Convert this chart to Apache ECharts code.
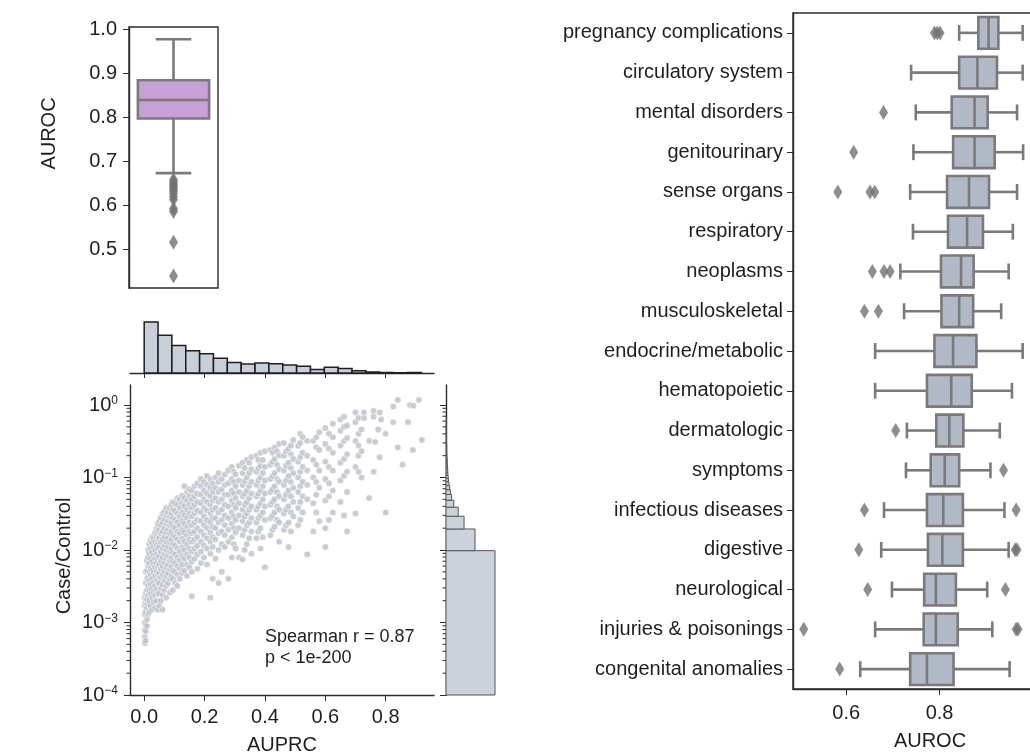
<!DOCTYPE html>
<html>
<head>
<meta charset="utf-8">
<script src="https://cdn.jsdelivr.net/npm/echarts@6/dist/echarts.min.js"></script>
<style>
  html, body { margin: 0; padding: 0; background: #fff; }
  #chart { width: 1030px; height: 756px; }
</style>
</head>
<body>
<div id="chart"></div>
<script>
// ---------------- data ----------------
// Overall AUROC distribution: [lower whisker, Q1, median, Q3, upper whisker]
const aurocBoxStats = [0.673, 0.797, 0.839, 0.884, 0.977];
const aurocOutliers = [0.658, 0.653, 0.648, 0.643, 0.638, 0.633, 0.627, 0.620, 0.613, 0.592, 0.586, 0.516, 0.439];
const aurocTicks = [0.5, 0.6, 0.7, 0.8, 0.9, 1.0];

// AUROC by disease chapter
const categories = [
  'pregnancy complications', 'circulatory system', 'mental disorders', 'genitourinary',
  'sense organs', 'respiratory', 'neoplasms', 'musculoskeletal', 'endocrine/metabolic',
  'hematopoietic', 'dermatologic', 'symptoms', 'infectious diseases', 'digestive',
  'neurological', 'injuries & poisonings', 'congenital anomalies'
];
const categoryBoxStats = [
  [0.842, 0.883, 0.905, 0.926, 0.978],
  [0.739, 0.842, 0.881, 0.923, 0.978],
  [0.749, 0.826, 0.875, 0.903, 0.966],
  [0.744, 0.829, 0.875, 0.918, 0.979],
  [0.737, 0.816, 0.863, 0.906, 0.966],
  [0.743, 0.818, 0.859, 0.893, 0.957],
  [0.716, 0.803, 0.846, 0.873, 0.948],
  [0.724, 0.804, 0.842, 0.872, 0.932],
  [0.662, 0.789, 0.829, 0.879, 0.978],
  [0.662, 0.773, 0.825, 0.869, 0.955],
  [0.730, 0.793, 0.821, 0.851, 0.929],
  [0.728, 0.781, 0.811, 0.842, 0.909],
  [0.681, 0.773, 0.808, 0.850, 0.939],
  [0.675, 0.775, 0.806, 0.850, 0.948],
  [0.698, 0.767, 0.792, 0.835, 0.902],
  [0.662, 0.766, 0.792, 0.839, 0.913],
  [0.630, 0.737, 0.773, 0.830, 0.950]
];
const categoryOutliers = [
  [0.789, 0.795, 0.801],
  [],
  [0.680],
  [0.616],
  [0.582, 0.651, 0.661],
  [],
  [0.656, 0.681, 0.694],
  [0.639, 0.669],
  [],
  [],
  [0.706],
  [0.937],
  [0.639, 0.964],
  [0.627, 0.962, 0.966],
  [0.646, 0.941],
  [0.509, 0.964, 0.968],
  [0.586]
];
const categoryTicks = [0.6, 0.8];

// AUPRC vs case/control ratio, grouped by AUPRC value
const scatterColumns = [
  [0.002, [5.2e-4, 6.3e-4, 7.9e-4, 1.0e-3, 1.3e-3, 1.7e-3, 2.2e-3]],
  [0.005, [5.6e-4, 7.6e-4, 9.5e-4, 1.4e-3, 1.9e-3, 2.5e-3, 3.5e-3, 5.0e-3]],
  [0.009, [8.9e-4, 1.1e-3, 1.6e-3, 2.1e-3, 2.8e-3, 4.0e-3, 5.2e-3, 7.1e-3]],
  [0.013, [1.3e-3, 1.8e-3, 2.4e-3, 3.2e-3, 4.2e-3, 6.0e-3, 7.9e-3, 1.0e-2]],
  [0.017, [1.4e-3, 2.0e-3, 2.8e-3, 3.8e-3, 5.0e-3, 6.6e-3, 8.9e-3, 1.2e-2]],
  [0.021, [1.7e-3, 2.5e-3, 3.4e-3, 4.5e-3, 5.6e-3, 7.6e-3, 1.05e-2, 1.35e-2]],
  [0.026, [1.5e-3, 2.2e-3, 3.0e-3, 4.0e-3, 5.2e-3, 6.9e-3, 9.3e-3, 1.25e-2, 1.5e-2]],
  [0.031, [1.9e-3, 2.6e-3, 3.6e-3, 4.8e-3, 6.3e-3, 8.3e-3, 1.1e-2, 1.45e-2]],
  [0.036, [1.6e-3, 2.4e-3, 3.2e-3, 4.4e-3, 5.8e-3, 7.6e-3, 1.0e-2, 1.3e-2, 1.7e-2]],
  [0.041, [2.0e-3, 2.8e-3, 3.8e-3, 5.0e-3, 6.6e-3, 8.7e-3, 1.15e-2, 1.5e-2, 1.95e-2]],
  [0.045, [1.5e-3, 2.5e-3, 3.5e-3, 4.6e-3, 6.0e-3, 7.9e-3, 1.05e-2, 1.4e-2, 1.8e-2, 2.3e-2]],
  [0.050, [1.7e-3, 2.5e-3, 3.5e-3, 4.8e-3, 6.3e-3, 8.3e-3, 1.1e-2, 1.45e-2, 1.9e-2, 2.5e-2]],
  [0.055, [2.0e-3, 3.0e-3, 4.2e-3, 5.5e-3, 7.2e-3, 9.5e-3, 1.3e-2, 1.7e-2, 2.2e-2, 2.8e-2]],
  [0.061, [1.5e-3, 2.4e-3, 3.3e-3, 4.6e-3, 6.0e-3, 7.9e-3, 1.05e-2, 1.4e-2, 1.8e-2, 2.4e-2, 3.2e-2]],
  [0.067, [2.8e-3, 3.8e-3, 5.0e-3, 6.6e-3, 8.7e-3, 1.15e-2, 1.5e-2, 2.0e-2, 2.6e-2, 3.4e-2]],
  [0.073, [2.2e-3, 3.2e-3, 4.4e-3, 5.8e-3, 7.6e-3, 1.0e-2, 1.3e-2, 1.75e-2, 2.3e-2, 3.0e-2, 3.8e-2]],
  [0.079, [3.5e-3, 4.8e-3, 6.3e-3, 8.3e-3, 1.1e-2, 1.45e-2, 1.9e-2, 2.5e-2, 3.3e-2]],
  [0.085, [2.6e-3, 4.0e-3, 5.5e-3, 7.2e-3, 9.5e-3, 1.3e-2, 1.7e-2, 2.2e-2, 2.9e-2, 3.8e-2]],
  [0.090, [4.4e-3, 6.0e-3, 7.9e-3, 1.05e-2, 1.4e-2, 1.8e-2, 2.4e-2, 3.2e-2, 4.2e-2]],
  [0.095, [2.8e-3, 4.0e-3, 5.2e-3, 6.9e-3, 9.1e-3, 1.2e-2, 1.6e-2, 2.1e-2, 2.75e-2, 3.6e-2, 4.6e-2]],
  [0.102, [3.5e-3, 5.0e-3, 6.6e-3, 8.7e-3, 1.15e-2, 1.5e-2, 2.0e-2, 2.6e-2, 3.5e-2, 4.4e-2]],
  [0.110, [3.2e-3, 4.6e-3, 6.0e-3, 7.9e-3, 1.05e-2, 1.4e-2, 1.8e-2, 2.4e-2, 3.2e-2, 4.2e-2, 5.2e-2]],
  [0.118, [4.0e-3, 5.5e-3, 7.2e-3, 9.5e-3, 1.3e-2, 1.7e-2, 2.2e-2, 2.9e-2, 3.8e-2, 5.0e-2]],
  [0.126, [4.8e-3, 6.3e-3, 8.3e-3, 1.1e-2, 1.45e-2, 1.9e-2, 2.5e-2, 3.3e-2, 4.4e-2, 5.6e-2]],
  [0.133, [5.2e-3, 7.6e-3, 1.0e-2, 1.3e-2, 1.75e-2, 2.3e-2, 3.0e-2, 4.0e-2, 5.2e-2, 7.6e-2]],
  [0.142, [4.4e-3, 6.3e-3, 8.7e-3, 1.2e-2, 1.6e-2, 2.1e-2, 2.75e-2, 3.6e-2, 4.8e-2, 6.3e-2]],
  [0.150, [5.8e-3, 7.9e-3, 1.05e-2, 1.4e-2, 1.8e-2, 2.4e-2, 3.2e-2, 4.2e-2, 5.5e-2, 6.9e-2]],
  [0.158, [2.3e-3, 5.0e-3, 6.9e-3, 9.5e-3, 1.3e-2, 1.7e-2, 2.2e-2, 2.9e-2, 3.8e-2, 5.0e-2, 6.6e-2]],
  [0.167, [7.6e-3, 1.05e-2, 1.4e-2, 1.8e-2, 2.4e-2, 3.2e-2, 4.2e-2, 5.5e-2, 7.6e-2]],
  [0.176, [5.5e-3, 8.7e-3, 1.15e-2, 1.5e-2, 2.0e-2, 2.6e-2, 3.5e-2, 4.6e-2, 6.0e-2, 8.3e-2]],
  [0.188, [6.6e-3, 9.5e-3, 1.3e-2, 1.8e-2, 2.5e-2, 3.3e-2, 4.4e-2, 5.8e-2, 7.6e-2, 9.5e-2]],
  [0.198, [7.9e-3, 1.15e-2, 1.6e-2, 2.2e-2, 2.9e-2, 3.8e-2, 5.0e-2, 6.6e-2, 8.7e-2]],
  [0.208, [6.3e-3, 1.05e-2, 1.45e-2, 2.0e-2, 2.6e-2, 3.5e-2, 4.6e-2, 6.0e-2, 7.9e-2, 1.05e-1]],
  [0.219, [2.2e-3, 8.9e-3, 1.3e-2, 1.75e-2, 2.4e-2, 3.2e-2, 4.2e-2, 5.5e-2, 7.2e-2, 9.5e-2]],
  [0.227, [4.0e-3, 1.1e-2, 1.5e-2, 2.1e-2, 2.75e-2, 3.6e-2, 4.8e-2, 6.3e-2, 8.3e-2]],
  [0.236, [7.6e-3, 1.4e-2, 2.0e-2, 2.75e-2, 3.8e-2, 5.2e-2, 7.2e-2, 1.0e-1]],
  [0.246, [3.5e-3, 1.0e-2, 1.7e-2, 2.4e-2, 3.3e-2, 4.6e-2, 6.3e-2, 8.7e-2, 1.15e-1]],
  [0.257, [5.0e-3, 1.2e-2, 1.8e-2, 2.6e-2, 3.6e-2, 5.0e-2, 6.9e-2, 9.5e-2]],
  [0.267, [1.1e-2, 1.6e-2, 2.2e-2, 3.0e-2, 4.2e-2, 5.8e-2, 7.9e-2, 1.1e-1]],
  [0.279, [4.0e-3, 1.3e-2, 1.9e-2, 2.75e-2, 4.0e-2, 5.8e-2, 8.3e-2, 1.25e-1]],
  [0.290, [7.9e-3, 1.5e-2, 2.3e-2, 3.3e-2, 4.8e-2, 6.6e-2, 9.5e-2, 1.4e-1]],
  [0.297, [1.2e-2, 2.0e-2, 2.9e-2, 4.2e-2, 6.0e-2, 8.7e-2, 1.2e-1]],
  [0.303, [1.05e-2, 1.75e-2, 2.6e-2, 3.8e-2, 5.2e-2, 7.6e-2, 1.1e-1]],
  [0.314, [7.9e-3, 2.0e-2, 3.0e-2, 4.4e-2, 6.3e-2, 9.1e-2, 1.45e-1]],
  [0.326, [7.4e-3, 1.6e-2, 2.5e-2, 3.6e-2, 5.5e-2, 7.9e-2, 1.15e-1, 1.6e-1]],
  [0.333, [1.0e-2, 1.9e-2, 2.9e-2, 4.2e-2, 6.0e-2, 8.9e-2, 1.35e-1]],
  [0.340, [1.2e-2, 2.2e-2, 3.2e-2, 4.6e-2, 6.6e-2, 1.0e-1, 1.75e-1]],
  [0.348, [1.45e-2, 2.4e-2, 3.6e-2, 5.2e-2, 7.6e-2, 1.15e-1, 1.6e-1]],
  [0.355, [8.9e-3, 1.8e-2, 2.75e-2, 4.0e-2, 6.0e-2, 8.7e-2, 1.3e-1, 1.9e-1]],
  [0.372, [1.45e-2, 2.4e-2, 3.6e-2, 5.5e-2, 7.9e-2, 1.2e-1, 2.0e-1]],
  [0.378, [1.8e-2, 2.75e-2, 4.0e-2, 6.0e-2, 9.1e-2, 1.35e-1, 1.75e-1]],
  [0.385, [1.05e-2, 2.0e-2, 3.0e-2, 4.4e-2, 6.6e-2, 1.0e-1, 1.45e-1, 2.2e-1]],
  [0.393, [1.5e-2, 3.3e-2, 5.0e-2, 7.6e-2, 1.15e-1, 1.75e-1]],
  [0.400, [5.8e-3, 2.6e-2, 4.0e-2, 6.0e-2, 9.1e-2, 1.4e-1, 2.3e-1]],
  [0.418, [1.6e-2, 2.75e-2, 4.2e-2, 6.3e-2, 9.5e-2, 1.5e-1, 2.4e-1]],
  [0.425, [1.9e-2, 3.0e-2, 4.6e-2, 6.9e-2, 1.05e-1, 1.65e-1, 2.2e-1]],
  [0.432, [2.1e-2, 3.3e-2, 5.0e-2, 7.6e-2, 1.15e-1, 1.8e-1, 2.6e-1]],
  [0.440, [2.6e-2, 4.0e-2, 6.3e-2, 9.5e-2, 1.5e-1, 2.3e-1]],
  [0.447, [1.3e-2, 2.4e-2, 3.6e-2, 5.5e-2, 8.7e-2, 1.3e-1, 2.0e-1, 2.9e-1]],
  [0.463, [1.9e-2, 3.2e-2, 5.0e-2, 7.9e-2, 1.25e-1, 2.0e-1, 3.0e-1]],
  [0.470, [2.2e-2, 3.6e-2, 5.8e-2, 9.1e-2, 1.45e-1, 2.3e-1]],
  [0.478, [1.1e-2, 2.4e-2, 4.0e-2, 6.6e-2, 1.05e-1, 1.6e-1, 2.5e-1]],
  [0.486, [1.8e-2, 3.3e-2, 5.5e-2, 8.7e-2, 1.35e-1, 2.1e-1, 2.75e-1]],
  [0.494, [2.9e-2, 4.6e-2, 7.2e-2, 1.15e-1, 1.8e-1, 3.3e-1]],
  [0.510, [2.2e-2, 3.8e-2, 6.3e-2, 1.0e-1, 1.65e-1, 2.75e-1]],
  [0.517, [2.6e-2, 4.6e-2, 7.6e-2, 1.2e-1, 1.9e-1, 3.0e-1, 4.0e-1]],
  [0.525, [3.3e-2, 5.5e-2, 8.7e-2, 1.4e-1, 2.2e-1, 3.6e-1]],
  [0.540, [8.7e-3, 5.0e-2, 7.9e-2, 1.25e-1, 2.0e-1, 3.2e-1]],
  [0.560, [1.8e-2, 4.4e-2, 1.0e-1, 1.75e-1, 3.2e-1]],
  [0.570, [3.3e-2, 5.8e-2, 8.7e-2, 1.5e-1, 2.6e-1, 3.6e-1]],
  [0.580, [2.5e-2, 7.2e-2, 1.25e-1, 2.4e-1, 4.2e-1]],
  [0.600, [1.1e-2, 2.0e-2, 4.8e-2, 9.5e-2, 1.65e-1, 2.9e-1, 4.8e-1]],
  [0.612, [2.6e-2, 5.5e-2, 8.3e-2, 1.4e-1, 2.5e-1, 4.0e-1]],
  [0.625, [3.3e-2, 6.6e-2, 1.25e-1, 2.2e-1, 3.6e-1, 5.5e-1]],
  [0.650, [4.6e-2, 9.1e-2, 1.6e-1, 2.75e-1, 4.4e-1, 6.3e-1]],
  [0.662, [3.0e-2, 1.05e-1, 1.8e-1, 3.2e-1, 5.0e-1, 6.9e-1]],
  [0.672, [1.8e-2, 6.3e-2, 1.2e-1, 2.1e-1, 3.5e-1, 5.2e-1]],
  [0.700, [3.2e-2, 1.4e-1, 3.2e-1, 5.8e-1, 7.9e-1]],
  [0.710, [1.2e-1, 2.0e-1, 2.75e-1, 4.0e-1, 6.6e-1]],
  [0.720, [1.0e-1, 2.3e-1, 4.6e-1]],
  [0.728, [7.9e-1, 6.6e-1]],
  [0.745, [5.2e-2, 3.2e-1]],
  [0.760, [1.2e-1, 6.9e-1, 8.3e-1]],
  [0.765, [3.1e-1]],
  [0.775, [4.6e-1]],
  [0.780, [1.9e-1, 7.9e-1]],
  [0.785, [6.3e-1]],
  [0.800, [3.3e-2, 4.0e-1]],
  [0.825, [9.5e-1, 5.8e-1]],
  [0.840, [1.17, 2.6e-1]],
  [0.856, [1.5e-1]],
  [0.874, [5.8e-1]],
  [0.880, [1.0]],
  [0.892, [9.8e-1]],
  [0.890, [2.4e-1]],
  [0.910, [1.17]],
  [0.920, [3.3e-1]]
];
const auprcTicks = [0, 0.2, 0.4, 0.6, 0.8];
const ratioDecades = [-4, -3, -2, -1, 0];

// marginal histogram of AUPRC (counts per bin)
const auprcBinStart = 0;
const auprcBinWidth = 0.0459;
const auprcCounts = [205, 152, 111, 89, 77, 59, 42, 36, 40, 37, 32, 27, 14, 23, 18, 9, 4, 2, 1, 2];

// marginal histogram of case/control ratio (counts per bin)
const ratioBinStart = 0.0001;
const ratioBinWidth = 0.0097;
const ratioCounts = [201, 119, 74, 50, 32, 23, 18, 15, 12, 10, 9, 8, 7, 7, 6, 6, 5, 5, 5, 4,
  4, 4, 4, 3, 3, 3, 3, 3, 3, 2, 3, 2, 2, 2, 2, 2, 2, 2, 1, 2, 2, 1, 1, 2, 1, 1, 1, 1, 1, 1,
  1, 1, 0, 1, 1, 1, 0, 1, 1, 0, 1, 0, 1, 0, 0, 1, 0, 0, 1];

// ---------------- styling ----------------
const FONT = '"Liberation Sans", Arial, Helvetica, sans-serif';
const TEXT = '#1e1e1e';
const SPINE = '#2b2b2b';
const EDGE = '#7a7a7a';
const BOX_FILL = '#b2b9c6';
const ALL_FILL = '#c6a0d6';
const BOX_LW = 2.6;

const AX_X = { min: -0.047, max: 0.96 };
const AX_LOG = { min: -4, max: 0.276 };

const labelStyle = { color: TEXT, fontFamily: FONT, fontSize: 20 };
const spineLine = { show: true, onZero: false, lineStyle: { color: SPINE, width: 1.4 } };

// box with half-width whisker caps
function boxRenderer(horizontal, fill) {
  return function (params, api) {
    const cat = api.value(0);
    const v = [api.value(1), api.value(2), api.value(3), api.value(4), api.value(5)];
    const band = horizontal ? api.size([0, 1])[1] : api.size([1, 0])[0];
    const hb = band * 0.4, hc = band * 0.2;
    const line = { stroke: EDGE, lineWidth: BOX_LW, fill: null };
    const ch = [];
    if (horizontal) {
      const p = v.map(val => api.coord([val, cat]));
      const y = p[0][1];
      ch.push({ type: 'line', shape: { x1: p[0][0], y1: y, x2: p[1][0], y2: y }, style: line });
      ch.push({ type: 'line', shape: { x1: p[3][0], y1: y, x2: p[4][0], y2: y }, style: line });
      ch.push({ type: 'line', shape: { x1: p[0][0], y1: y - hc, x2: p[0][0], y2: y + hc }, style: line });
      ch.push({ type: 'line', shape: { x1: p[4][0], y1: y - hc, x2: p[4][0], y2: y + hc }, style: line });
      ch.push({ type: 'rect', shape: { x: p[1][0], y: y - hb, width: p[3][0] - p[1][0], height: 2 * hb },
        style: { fill: fill, stroke: EDGE, lineWidth: BOX_LW } });
      ch.push({ type: 'line', shape: { x1: p[2][0], y1: y - hb, x2: p[2][0], y2: y + hb }, style: line });
    } else {
      const p = v.map(val => api.coord([cat, val]));
      const x = p[0][0];
      ch.push({ type: 'line', shape: { x1: x, y1: p[0][1], x2: x, y2: p[1][1] }, style: line });
      ch.push({ type: 'line', shape: { x1: x, y1: p[3][1], x2: x, y2: p[4][1] }, style: line });
      ch.push({ type: 'line', shape: { x1: x - hc, y1: p[0][1], x2: x + hc, y2: p[0][1] }, style: line });
      ch.push({ type: 'line', shape: { x1: x - hc, y1: p[4][1], x2: x + hc, y2: p[4][1] }, style: line });
      ch.push({ type: 'rect', shape: { x: x - hb, y: p[3][1], width: 2 * hb, height: p[1][1] - p[3][1] },
        style: { fill: fill, stroke: EDGE, lineWidth: BOX_LW } });
      ch.push({ type: 'line', shape: { x1: x - hb, y1: p[2][1], x2: x + hb, y2: p[2][1] }, style: line });
    }
    return { type: 'group', children: ch };
  };
}

// ---------------- derived series data ----------------
const scatterData = [];
scatterColumns.forEach(([x, ys]) => ys.forEach(y => scatterData.push([x, Math.log10(y)])));

const auprcHist = auprcCounts.map((c, i) => [auprcBinStart + i * auprcBinWidth, auprcBinStart + (i + 1) * auprcBinWidth, c]);
const ratioHist = ratioCounts.map((c, i) => [
  Math.log10(ratioBinStart + i * ratioBinWidth), Math.log10(ratioBinStart + (i + 1) * ratioBinWidth), c
]).filter(d => d[2] > 0);

const minorLogs = [];
ratioDecades.forEach(d => {
  for (let k = 2; k <= 9; k++) {
    const v = d + Math.log10(k);
    if (v <= AX_LOG.max) minorLogs.push(v);
  }
});

const categoryBoxData = categoryBoxStats.map((s, i) => [i].concat(s));
const categoryOutlierData = [];
categoryOutliers.forEach((list, i) => list.forEach(v => categoryOutlierData.push([v, i])));

const supLabel = v => '{b|10}{s|' + (v === 0 ? '0' : '\u2212' + Math.abs(v)) + '}';

// ---------------- chart ----------------
const chart = echarts.init(document.getElementById('chart'), null, { renderer: 'canvas' });

const minorTickRenderer = (params, api) => {
  const p = api.coord([api.value(0), api.value(1)]);
  return { type: 'line', shape: { x1: p[0] - 3.5, y1: p[1], x2: p[0], y2: p[1] },
    style: { stroke: SPINE, lineWidth: 1 } };
};

const gridBase = { outerBoundsMode: 'none', containLabel: false };

chart.setOption({
  animation: false,
  backgroundColor: '#fff',
  textStyle: { fontFamily: FONT },
  grid: [
    Object.assign({ left: 129, top: 27, width: 89, height: 261, show: true, borderColor: SPINE, borderWidth: 1.4, backgroundColor: 'transparent' }, gridBase),
    Object.assign({ left: 130, top: 322, width: 304, height: 51 }, gridBase),
    Object.assign({ left: 130, top: 385, width: 304, height: 310 }, gridBase),
    Object.assign({ left: 446, top: 385, width: 50, height: 310 }, gridBase),
    Object.assign({ left: 793, top: 13, width: 274, height: 676, show: true, borderColor: SPINE, borderWidth: 1.4, backgroundColor: 'transparent' }, gridBase)
  ],
  xAxis: [
    { gridIndex: 0, type: 'category', data: ['AUROC'], show: false },
    { gridIndex: 1, type: 'value', min: AX_X.min, max: AX_X.max, axisLine: spineLine,
      axisTick: { show: true, length: 5, customValues: auprcTicks, lineStyle: { color: SPINE } },
      axisLabel: { show: false }, splitLine: { show: false } },
    { gridIndex: 2, type: 'value', min: AX_X.min, max: AX_X.max, axisLine: spineLine,
      axisTick: { show: true, length: 6, customValues: auprcTicks, lineStyle: { color: SPINE } },
      axisLabel: Object.assign({ customValues: auprcTicks, margin: 12, formatter: v => v.toFixed(1) }, labelStyle),
      splitLine: { show: false },
      name: 'AUPRC', nameLocation: 'middle', nameGap: 40, nameTextStyle: labelStyle },
    { gridIndex: 3, type: 'value', min: 0, max: 205, show: false },
    { gridIndex: 4, type: 'value', min: 0.486, max: 1.073, axisLine: spineLine,
      axisTick: { show: true, length: 6, customValues: categoryTicks, lineStyle: { color: SPINE } },
      axisLabel: Object.assign({ customValues: categoryTicks, margin: 14, formatter: v => v.toFixed(1) }, labelStyle),
      splitLine: { show: false },
      name: 'AUROC', nameLocation: 'middle', nameGap: 42, nameTextStyle: labelStyle }
  ],
  yAxis: [
    { gridIndex: 0, type: 'value', min: 0.412, max: 1.005, axisLine: spineLine,
      axisTick: { show: true, length: 6, customValues: aurocTicks, lineStyle: { color: SPINE } },
      axisLabel: Object.assign({ customValues: aurocTicks, margin: 12, formatter: v => v.toFixed(1) }, labelStyle),
      splitLine: { show: false },
      name: 'AUROC', nameLocation: 'middle', nameGap: 70,
      nameTextStyle: Object.assign({ padding: [0, 0, 0, 48] }, labelStyle) },
    { gridIndex: 1, type: 'value', min: 0, max: 205, show: false },
    { gridIndex: 2, type: 'value', min: AX_LOG.min, max: AX_LOG.max, axisLine: spineLine,
      axisTick: { show: true, length: 6, customValues: ratioDecades, lineStyle: { color: SPINE } },
      axisLabel: {
        customValues: ratioDecades, margin: 12, formatter: supLabel,
        rich: {
          b: { fontSize: 20, fontFamily: FONT, color: TEXT },
          s: { fontSize: 12, fontFamily: FONT, color: TEXT, verticalAlign: 'top' }
        }
      },
      splitLine: { show: false },
      name: 'Case/Control', nameLocation: 'middle', nameGap: 56,
      nameTextStyle: Object.assign({ padding: [0, 32, 0, 0] }, labelStyle) },
    { gridIndex: 3, type: 'value', min: AX_LOG.min, max: AX_LOG.max, axisLine: spineLine,
      axisTick: { show: true, length: 6, customValues: ratioDecades, lineStyle: { color: SPINE } },
      axisLabel: { show: false }, splitLine: { show: false } },
    { gridIndex: 4, type: 'category', data: categories, inverse: true, axisLine: spineLine,
      axisTick: { show: true, length: 6, alignWithLabel: true, lineStyle: { color: SPINE } },
      axisLabel: Object.assign({ interval: 0, margin: 10 }, labelStyle) }
  ],
  series: [
    // overall AUROC box
    { type: 'custom', xAxisIndex: 0, yAxisIndex: 0, renderItem: boxRenderer(false, ALL_FILL),
      encode: { x: 0, y: [1, 2, 3, 4, 5] }, data: [[0].concat(aurocBoxStats)], z: 3 },
    { type: 'scatter', xAxisIndex: 0, yAxisIndex: 0, symbol: 'diamond', symbolSize: [9, 15],
      itemStyle: { color: '#727272' }, data: aurocOutliers.map(v => [0, v]), z: 4 },
    // marginal histogram, AUPRC
    { type: 'custom', xAxisIndex: 1, yAxisIndex: 1, encode: { x: [0, 1], y: 2 }, data: auprcHist,
      renderItem: (params, api) => {
        const a = api.coord([api.value(0), api.value(2)]);
        const b = api.coord([api.value(1), 0]);
        return { type: 'rect', shape: { x: a[0], y: a[1], width: b[0] - a[0], height: b[1] - a[1] },
          style: { fill: '#c9cfd9', stroke: '#1e1e1e', lineWidth: 1.5 } };
      } },
    // scatter
    { type: 'scatter', xAxisIndex: 2, yAxisIndex: 2, symbolSize: 6.5, data: scatterData,
      itemStyle: { color: '#bbc0c8', borderColor: '#ffffff', borderWidth: 0.7 } },
    // minor log ticks on both ratio axes
    { type: 'custom', xAxisIndex: 2, yAxisIndex: 2, clip: false, encode: { x: 0, y: 1 },
      data: minorLogs.map(v => [AX_X.min, v]), renderItem: minorTickRenderer },
    { type: 'custom', xAxisIndex: 3, yAxisIndex: 3, clip: false, encode: { x: 0, y: 1 },
      data: minorLogs.map(v => [0, v]), renderItem: minorTickRenderer },
    // marginal histogram, case/control ratio
    { type: 'custom', xAxisIndex: 3, yAxisIndex: 3, encode: { x: 2, y: [0, 1] }, data: ratioHist,
      renderItem: (params, api) => {
        const a = api.coord([api.value(2), api.value(1)]);
        const b = api.coord([0, Math.max(api.value(0), AX_LOG.min)]);
        return { type: 'rect', shape: { x: b[0], y: a[1], width: a[0] - b[0], height: b[1] - a[1] },
          style: { fill: '#ccd2dc', stroke: '#555555', lineWidth: 1 } };
      } },
    // AUROC by category
    { type: 'custom', xAxisIndex: 4, yAxisIndex: 4, renderItem: boxRenderer(true, BOX_FILL),
      encode: { x: [1, 2, 3, 4, 5], y: 0 }, data: categoryBoxData, z: 3 },
    { type: 'scatter', xAxisIndex: 4, yAxisIndex: 4, symbol: 'diamond', symbolSize: [9, 15],
      itemStyle: { color: '#727272' }, data: categoryOutlierData, z: 4 }
  ],
  graphic: [
    { type: 'text', left: 265, top: 627, z: 10,
      style: { text: 'Spearman r = 0.87\np < 1e-200', font: '18px ' + FONT, fill: TEXT, lineHeight: 21 } }
  ]
});
</script>
</body>
</html>
